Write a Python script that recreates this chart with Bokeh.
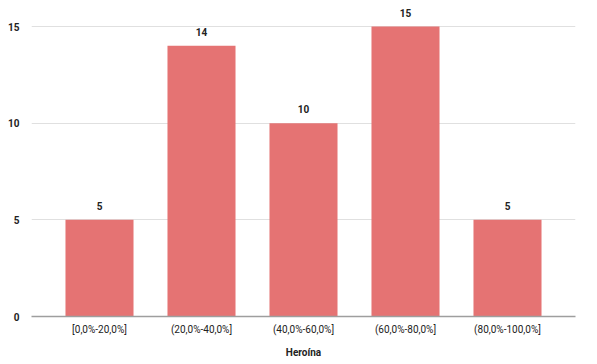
from bokeh.plotting import figure
from bokeh.models import ColumnDataSource, FactorRange, Range1d, FixedTicker, LabelSet
from bokeh.core.properties import value
from bokeh.embed import file_html
from bokeh.resources import INLINE

categories = ["[0,0%-20,0%]", "(20,0%-40,0%]", "(40,0%-60,0%]", "(60,0%-80,0%]", "(80,0%-100,0%]"]
counts = [5, 14, 10, 15, 5]
y_ticks = [0, 5, 10, 15]
x_title = "Heroína"

src = ColumnDataSource(dict(cat=categories, val=counts, lbl=[str(v) for v in counts]))

p = figure(frame_width=544, frame_height=316, output_backend="svg", toolbar_location=None,
           x_range=FactorRange(factors=categories, range_padding=1/6, range_padding_units="absolute"),
           y_range=Range1d(0, 16.345),
           min_border_left=31, min_border_right=22, min_border_top=0, min_border_bottom=0)
p.outline_line_color = None
p.vbar(x="cat", top="val", width=0.667, source=src, fill_color="#e57373", line_color=None)

labels = LabelSet(x="cat", y="val", text="lbl", source=src, text_align="center",
                  text_baseline="bottom", y_offset=10, text_font=value("Roboto"),
                  text_font_size="10px", text_font_style="bold", text_color="#222222")
p.add_layout(labels)

p.xgrid.grid_line_color = None
p.ygrid.grid_line_color = "#e0e0e0"
p.ygrid.ticker = FixedTicker(ticks=y_ticks)

p.yaxis.ticker = FixedTicker(ticks=y_ticks)
p.yaxis.axis_line_color = None
p.yaxis.major_tick_line_color = None
p.yaxis.minor_tick_line_color = None
p.yaxis.major_label_standoff = 6
p.yaxis.major_label_text_font = "Roboto"
p.yaxis.major_label_text_font_size = "10px"
p.yaxis.major_label_text_font_style = "bold"
p.yaxis.major_label_text_color = "#222222"

p.xaxis.axis_line_color = "#9e9e9e"
p.xaxis.axis_line_width = 1.5
p.xaxis.major_tick_line_color = None
p.xaxis.minor_tick_line_color = None
p.xaxis.major_label_standoff = 1
p.xaxis.major_label_text_font = "Roboto"
p.xaxis.major_label_text_font_size = "10px"
p.xaxis.major_label_text_color = "#222222"
p.xaxis.axis_label = x_title
p.xaxis.axis_label_text_font = "Roboto"
p.xaxis.axis_label_text_font_size = "10px"
p.xaxis.axis_label_text_font_style = "bold"
p.xaxis.axis_label_text_color = "#222222"
p.xaxis.axis_label_standoff = 9

open("out.html", "w").write(file_html(p, INLINE))
